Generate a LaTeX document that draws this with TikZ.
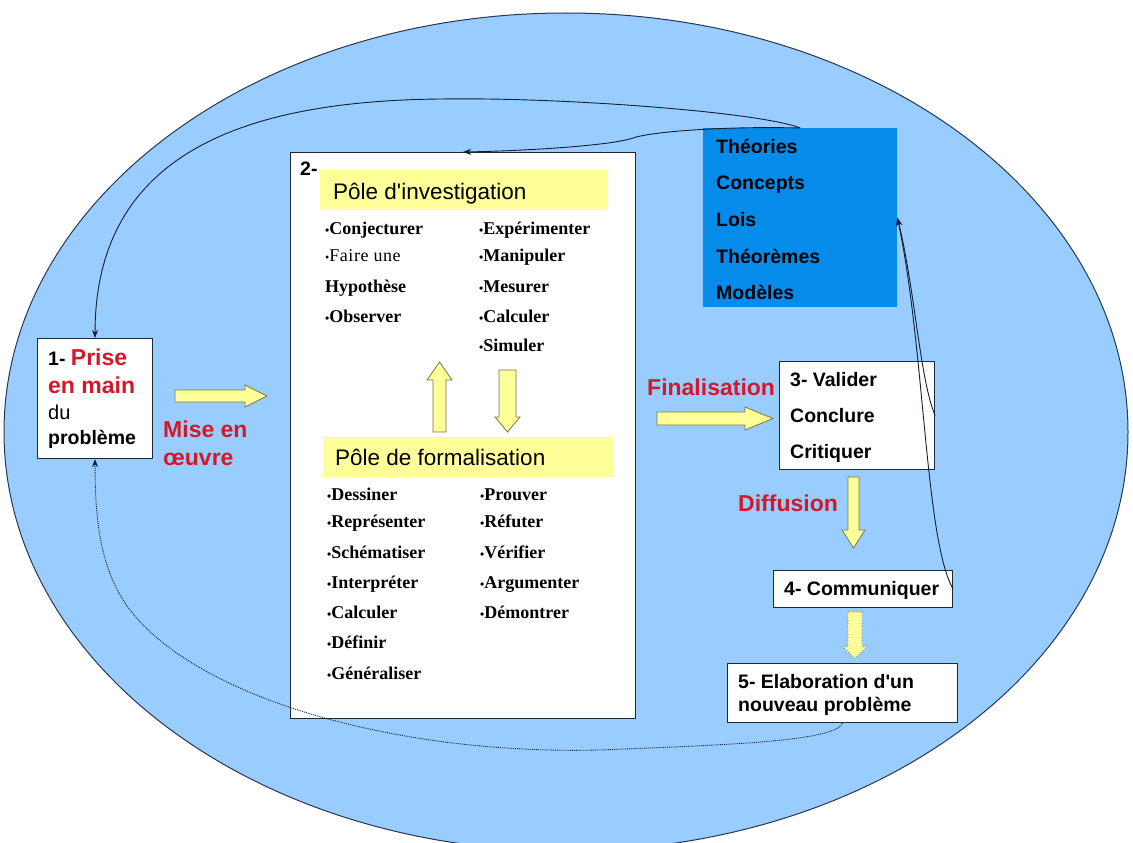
\documentclass[tikz,border=0pt]{standalone}
\usepackage{fontspec}
\setmainfont{Liberation Serif}
\newfontfamily\arial{Liberation Sans}
\usetikzlibrary{arrows.meta}
\definecolor{ellfill}{RGB}{153,204,255}
\definecolor{ellline}{RGB}{40,55,80}
\definecolor{boxline}{RGB}{30,40,55}
\definecolor{bluebox}{RGB}{5,140,235}
\definecolor{yelband}{RGB}{255,255,153}
\definecolor{arrline}{RGB}{120,120,70}
\definecolor{redc}{RGB}{210,25,40}
\definecolor{linec}{RGB}{20,30,50}
\newcommand\bul{{\fontsize{12}{12}\selectfont\raisebox{-0.3pt}{•}}}
\tikzset{
  lbl/.style={anchor=base west, inner sep=0, font=\arial\bfseries\fontsize{19.5}{22}\selectfont},
  redlbl/.style={anchor=base west, inner sep=0, text=redc, font=\arial\bfseries\fontsize{23}{26}\selectfont},
  item/.style={anchor=base west, inner sep=0, font=\bfseries\fontsize{18}{20}\selectfont},
  pole/.style={anchor=base west, inner sep=0, font=\arial\fontsize{22.5}{25}\selectfont},
  whitebox/.style={draw=boxline, fill=white, line width=1.1pt, anchor=north west, inner sep=0},
  band/.style={fill=yelband, anchor=north west, inner sep=0},
  conn/.style={draw=linec, line width=0.9pt},
  tip/.style={-{Stealth[length=8pt,width=6pt]}},
  blockarrow/.style={fill=yelband, draw=arrline, line width=0.8pt, line join=miter},
}
\begin{document}
\begin{tikzpicture}[x=1pt,y=-1pt]
\useasboundingbox (0,0) rectangle (1133,843);
\begin{scope}
\clip (0,0) rectangle (1133,843);
\fill[white] (0,0) rectangle (1133,843);
\filldraw[fill=ellfill, draw=ellline, line width=1pt] (566,432) ellipse [x radius=562, y radius=419];
\end{scope}

% boxes
\node[whitebox, minimum width=115, minimum height=120] (b1) at (37,338) {};
\node[whitebox, minimum width=345, minimum height=566] (b2) at (290,152) {};
\node[fill=bluebox, anchor=north west, inner sep=0, minimum width=194, minimum height=179] (blue) at (703,128) {};
\node[whitebox, minimum width=155, minimum height=108] (b3) at (779,361) {};
\node[whitebox, minimum width=179, minimum height=37] (b4) at (773,570) {};
\node[whitebox, minimum width=230, minimum height=59] (b5) at (727,663) {};
\node[band, minimum width=288, minimum height=40] (band1) at (320,170) {};
\node[band, minimum width=290, minimum height=40] (band2) at (323,437) {};

% box 1 text
\node[lbl] (t1a) at (48,365) {1- \textcolor{redc}{\fontsize{23}{26}\selectfont Prise}};
\node[redlbl] (t1b) at (48,393) {en main};
\node[anchor=base west, inner sep=0, font=\arial\fontsize{20}{23}\selectfont] (t1c) at (48,419) {du};
\node[lbl] (t1d) at (48,444) {problème};

\node[redlbl] (mise1) at (163,437) {Mise en};
\node[redlbl] (mise2) at (163,465) {œuvre};

% box 2
\node[lbl] (t2) at (300,175) {2-};
\node[pole] (p1) at (333,199) {Pôle d'investigation};
\node[pole] (p2) at (335,465) {Pôle de formalisation};

\node[item] (i1) at (325,234) {\bul Conjecturer};
\node[item, font=\fontsize{18}{20}\selectfont\addfontfeature{LetterSpace=3}] (i2) at (325,261) {\bul Faire une};
\node[item] (i3) at (325,292) {Hypothèse};
\node[item] (i4) at (325,322) {\bul Observer};
\node[item] (j1) at (479,234) {\bul Expérimenter};
\node[item] (j2) at (479,261) {\bul Manipuler};
\node[item] (j3) at (479,292) {\bul Mesurer};
\node[item] (j4) at (479,322) {\bul Calculer};
\node[item] (j5) at (479,351) {\bul Simuler};

\node[item] (k1) at (327,500) {\bul Dessiner};
\node[item] (k2) at (327,527) {\bul Représenter};
\node[item] (k3) at (327,558) {\bul Schématiser};
\node[item] (k4) at (327,588) {\bul Interpréter};
\node[item] (k5) at (327,618) {\bul Calculer};
\node[item] (k6) at (327,648) {\bul Définir};
\node[item] (k7) at (327,679) {\bul Généraliser};
\node[item] (l1) at (480,500) {\bul Prouver};
\node[item] (l2) at (480,527) {\bul Réfuter};
\node[item] (l3) at (480,558) {\bul Vérifier};
\node[item] (l4) at (480,588) {\bul Argumenter};
\node[item] (l5) at (480,618) {\bul Démontrer};

% blue box text
\node[lbl] (m1) at (716,153) {Théories};
\node[lbl] (m2) at (716,189) {Concepts};
\node[lbl] (m3) at (716,226) {Lois};
\node[lbl] (m4) at (716,263) {Théorèmes};
\node[lbl] (m5) at (716,299) {Modèles};

% box 3
\node[lbl] (v1) at (790,386) {3- Valider};
\node[lbl] (v2) at (790,422) {Conclure};
\node[lbl] (v3) at (790,458) {Critiquer};
\node[redlbl] (fin) at (647,395) {Finalisation};
\node[redlbl] (diff) at (738,511) {Diffusion};

\node[lbl] (c4) at (784,595) {4- Communiquer};
\node[lbl] (c5a) at (738,688) {5- Elaboration d'un};
\node[lbl] (c5b) at (738,711) {nouveau problème};

% block arrows
\path[blockarrow] (175,390) -- (245,390) -- (245,385) -- (267,396) -- (245,407) -- (245,402) -- (175,402) -- cycle;
\path[blockarrow] (657,412) -- (745,412) -- (745,407) -- (773,418.5) -- (745,430) -- (745,425) -- (657,425) -- cycle;
\path[blockarrow] (848,477) -- (859,477) -- (859,530) -- (865,530) -- (853.5,548) -- (842,530) -- (848,530) -- cycle;
\path[blockarrow, dotted] (848,612) -- (862,612) -- (862,647) -- (867,647) -- (855,658) -- (843,647) -- (848,647) -- cycle;
\path[blockarrow] (433,432) -- (433,380) -- (427,380) -- (439.5,362) -- (452,380) -- (446,380) -- (446,432) -- cycle;
\path[blockarrow] (499,370) -- (516,370) -- (516,417) -- (520,417) -- (507.5,432) -- (495,417) -- (499,417) -- cycle;

% connectors
\draw[conn, tip] (blue.north) .. controls (760,112) and (560,97) .. (440,99)
   .. controls (250,101) and (95,150) .. (b1.north);
\draw[conn, tip] (blue.north) .. controls (720,126) and (650,132) .. (633,138)
   .. controls (610,146) and (520,151) .. (b2.north);
\draw[conn, tip] (b4.east) .. controls (925,540) and (925,350) .. (blue.east);
\draw[conn, tip] (b3.east) .. controls (920,380) and (915,290) .. (blue.east);
\draw[conn, densely dotted, tip] (b5.south) .. controls (835,742) and (720,745) .. (600,750)
   .. controls (400,755) and (200,700) .. (130,610)
   .. controls (100,570) and (95,520) .. (b1.south);
\end{tikzpicture}
\end{document}
